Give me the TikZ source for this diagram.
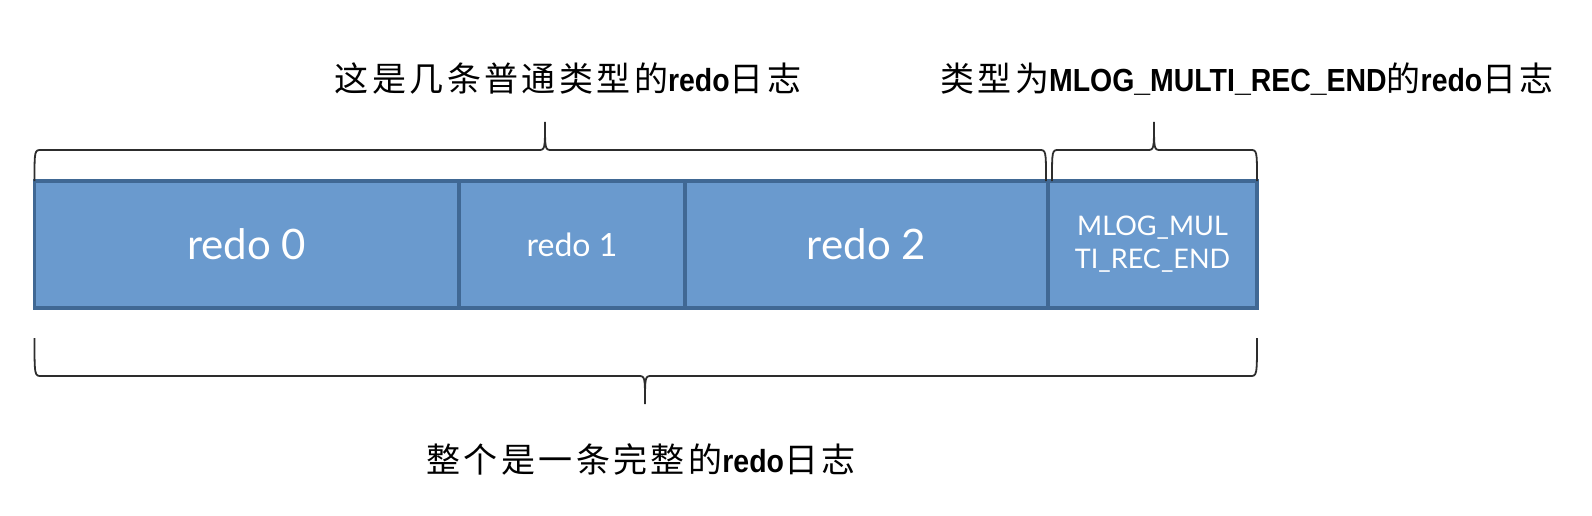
\documentclass[tikz,border=0pt]{standalone}
\usepackage{fontspec}
\setmainfont{Lato}
\newfontfamily\zh[LetterSpace=10]{Noto Sans CJK SC}
\newfontfamily\en[FakeStretch=0.89,Scale=0.94]{Liberation Sans}
\usetikzlibrary{positioning}
\definecolor{redofill}{RGB}{106,154,206}
\definecolor{redoline}{RGB}{64,104,148}
\definecolor{bracegray}{RGB}{45,45,45}

% horizontal curly brace: x-left, x-right, x-tip, y-ends, y-middle, y-tip
\newcommand{\hbrace}[6]{%
  \draw[curly] (#1,#4) .. controls (#1,#5) .. (#1+7,#5) -- (#3-7,#5)
    .. controls (#3,#5) .. (#3,#6) .. controls (#3,#5) .. (#3+7,#5)
    -- (#2-7,#5) .. controls (#2,#5) .. (#2,#4);}

\begin{document}
\begin{tikzpicture}[
  x=1pt, y=-1pt,
  logbox/.style={draw=redoline,fill=redofill,line width=3.2pt,outer sep=0pt,inner sep=0pt,
    minimum height=127pt,text=white,align=center,font=\fontsize{42}{50}\selectfont},
  smallbox/.style={logbox,font=\fontsize{32}{38}\selectfont},
  tinybox/.style={logbox,font=\fontsize{27}{33}\selectfont},
  curly/.style={draw=bracegray,line width=1.8pt},
  note/.style={inner sep=0pt,font=\fontsize{34}{40}\selectfont},
]
  \useasboundingbox (0,0) rectangle (1592,516);

  \node[logbox,minimum width=424.5pt,anchor=north west] (r0) at (34.5,181) {redo 0};
  \node[smallbox,minimum width=226pt,right=0pt of r0] (r1) {redo 1};
  \node[logbox,minimum width=363pt,right=0pt of r1] (r2) {redo 2};
  \node[tinybox,minimum width=209pt,right=0pt of r2] (r3) {MLOG\_MUL\\TI\_REC\_END};

  \hbrace{34.5}{1046}{545}{181}{150}{122}
  \hbrace{1052}{1257}{1154}{181}{150}{122}
  \hbrace{34.5}{1257}{645}{338}{376}{404}

  \node[note] (normal) at (568,79) {{\zh 这是几条普通类型的}{\en\bfseries redo}{\zh 日志}};
  \node[note] (endrec) at (1247,79) {{\zh 类型为}{\en\bfseries MLOG\_MULTI\_REC\_END}{\zh 的}{\en\bfseries redo}{\zh 日志}};
  \node[note] (whole) at (641,459) {{\zh 整个是一条完整的}{\en\bfseries redo}{\zh 日志}};
\end{tikzpicture}
\end{document}
